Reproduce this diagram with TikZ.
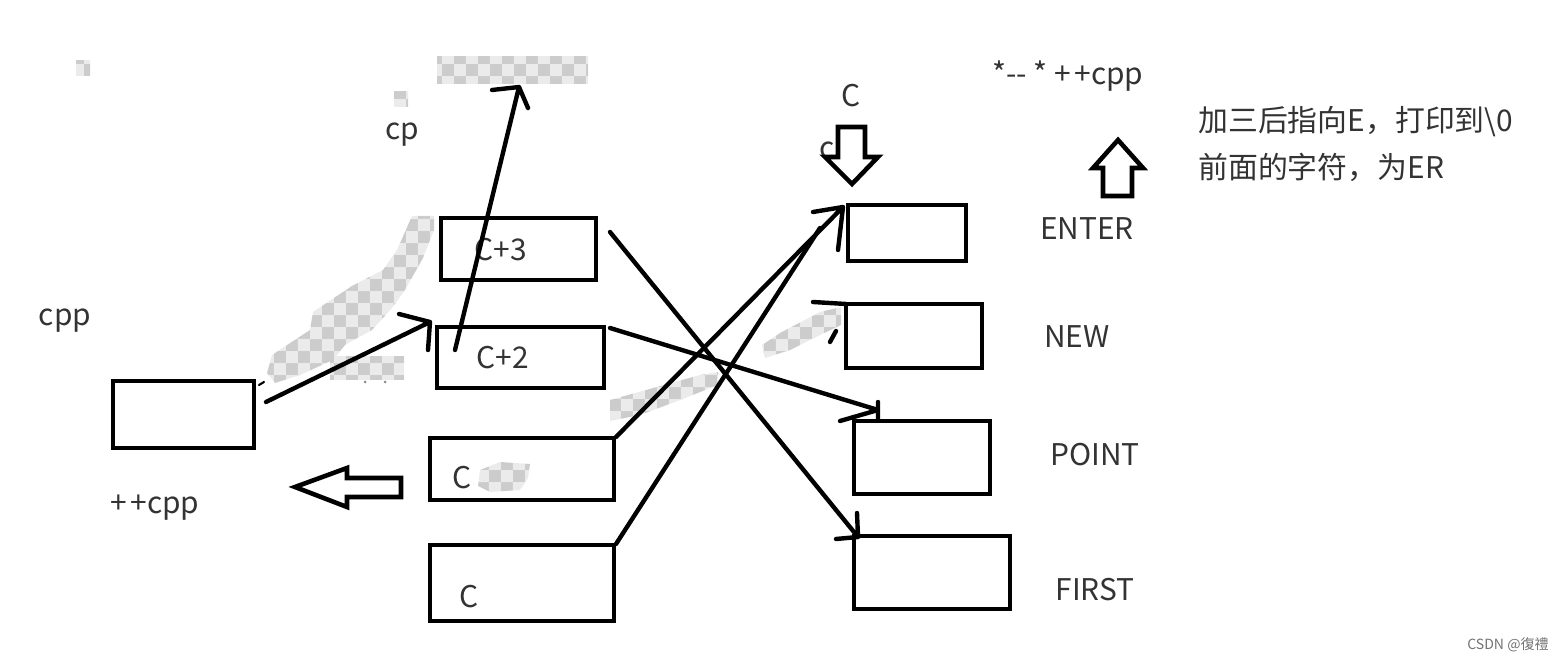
\documentclass[tikz,border=0pt]{standalone}
\usepackage{fontspec}
\setmainfont{Noto Sans CJK SC}
\usetikzlibrary{patterns.meta}
\tikzdeclarepattern{name=chk, type=colored,
  bottom left={(0pt,0pt)}, top right={(13.6pt,13.6pt)}, tile size={(13.6pt,13.6pt)},
  code={
    \fill[black!20] (0pt,0pt) rectangle (6.8pt,6.8pt);
    \fill[black!20] (6.8pt,6.8pt) rectangle (13.6pt,13.6pt);
    \fill[black!8] (6.8pt,0pt) rectangle (13.6pt,6.8pt);
    \fill[black!8] (0pt,6.8pt) rectangle (6.8pt,13.6pt);
  }}
\begin{document}
\begin{tikzpicture}[x=0.02cm,y=-0.02cm,
  box/.style={draw, line width=2.8pt, inner sep=0pt},
  lbl/.style={text=black!80, font=\fontsize{17pt}{20pt}\selectfont, inner sep=0pt},
  conn/.style={line width=2.5pt, line cap=round, line join=round},
  blk/.style={draw, fill=white, line width=2.6pt, line join=miter},
  smear/.style={pattern=chk, draw=none}]
\useasboundingbox (0,0) rectangle (1561,661);

% boxes
\node[box, minimum width=2.82cm, minimum height=1.34cm] (lb) at (183.5,414.5) {};
\node[box, minimum width=3.10cm, minimum height=1.24cm] (c3) at (518.5,249) {};
\node[box, minimum width=3.34cm, minimum height=1.22cm] (c2) at (520.5,357.5) {};
\node[box, minimum width=3.68cm, minimum height=1.24cm] (c1) at (522,469) {};
\node[box, minimum width=3.68cm, minimum height=1.52cm] (c0) at (522,583) {};
\node[box, minimum width=2.36cm, minimum height=1.12cm] (be) at (907,233) {};
\node[box, minimum width=2.72cm, minimum height=1.28cm] (bn) at (914,336) {};
\node[box, minimum width=2.72cm, minimum height=1.46cm] (bp) at (922,457.5) {};
\node[box, minimum width=3.12cm, minimum height=1.46cm] (bf) at (932,572.5) {};

% labels
\node[lbl] (t3) at (501,250) {C+3};
\node[lbl] (t2) at (503,358) {C+2};
\node[lbl] (t1) at (462,478) {C};
\node[lbl] (t0) at (469,597) {C};
\node[lbl] (le) at (1087,229) {ENTER};
\node[lbl] (ln) at (1077,337) {NEW};
\node[lbl] (lp) at (1095,455) {POINT};
\node[lbl] (lf) at (1095,590) {FIRST};
\node[lbl] (cpp) at (65,321) {cpp};
\node[lbl] (ppcpp) at (155,508) {+\kern2pt+cpp};
\node[lbl] (cp) at (402,135) {cp};
\node[lbl] (cc) at (851,96) {C};
\node[lbl] (cs) at (827,150) {c};
\node[lbl] (op) at (1068,76) {*-{}- * +\kern2pt+cpp};
\node[lbl, anchor=west, align=left, font=\fontsize{17pt}{27pt}\selectfont] (note) at (1198,144)
  {加三后指向E，打印到\textbackslash 0\\前面的字符，为ER};
\node[text=black!55, inner sep=0pt, font=\fontsize{8pt}{9pt}\selectfont] (wm) at (1508,645) {CSDN @復禮};

% smears (transparent-looking checker patches)
\path[smear] (437,57) rectangle (588,84);
\path[smear] (76,61) rectangle (90,76);
\path[smear] (394,92) rectangle (408,107);
\path[smear] (434,216) -- (412,216) -- (397,250) -- (383,270) -- (352,286) -- (313,312)
  -- (310,330) -- (272,355) -- (267,373) -- (275,383) -- (300,375) -- (333,360)
  -- (345,345) -- (372,330) -- (392,308) -- (405,290) -- (423,258) -- (434,230) -- cycle;
\path[smear] (330,357) rectangle (404,380);
\path[smear] (610,400) -- (700,375) -- (718,372) -- (718,385) -- (680,400) -- (640,415) -- (610,421) -- cycle;
\path[smear] (762,345) -- (780,333) -- (820,312) -- (841,307) -- (841,325) -- (820,335) -- (790,350) -- (765,358) -- cycle;
\path[smear] (480,470) -- (500,462) -- (530,464) -- (528,478) -- (520,490) -- (490,492) -- (478,486) -- cycle;
\fill[black!45] (365,382) circle (1.5) (385,382) circle (1.5);

% block arrows
\draw[blk] (838,127) -- (865,127) -- (865,157) -- (878,157) -- (852,184) -- (825,157) -- (838,157) -- cycle;
\draw[blk] (1118,140) -- (1143,168) -- (1132,168) -- (1132,196) -- (1103,196) -- (1103,168) -- (1093,168) -- cycle;
\draw[blk] (295,487) -- (347,468) -- (347,478) -- (401,478) -- (401,497) -- (347,497) -- (347,507) -- cycle;

% connectors
\coordinate (a1s) at (266,402); \coordinate (a1e) at (430,322);
\draw[conn] (a1s) -- (a1e) -- ++(-31,-8) (a1e) -- ++(-2,28);
\coordinate (a2s) at (455,350); \coordinate (a2e) at (519,87);
\draw[conn] (a2s) -- (a2e) -- ++(-27,3) (a2e) -- ++(9,21);
\coordinate (a3s) at (610,232); \coordinate (a3e) at (858,537);
\draw[conn] (a3s) -- (a3e) -- ++(-1,-24) (a3e) -- ++(-22,2);
\coordinate (a4s) at (610,328); \coordinate (a4e) at (878,410);
\draw[conn] (a4s) -- (a4e) -- ++(-38,11) (a4e) ++(0,-8) -- ++(0,18);
\coordinate (a5s) at (616,437); \coordinate (a5e) at (843,207);
\draw[conn] (a5s) -- (a5e) -- ++(-30,5) (a5e) -- ++(-5,43);
\coordinate (a6s) at (616,544); \coordinate (a6e) at (820,228);
\draw[conn] (a6s) -- (a6e);
% small leftover strokes
\draw[conn] (813,302) -- (846,304);
\draw[conn] (830,342) -- (836,331);
\draw[conn, line width=1.2pt] (259,385) -- (264,382);
\end{tikzpicture}
\end{document}
